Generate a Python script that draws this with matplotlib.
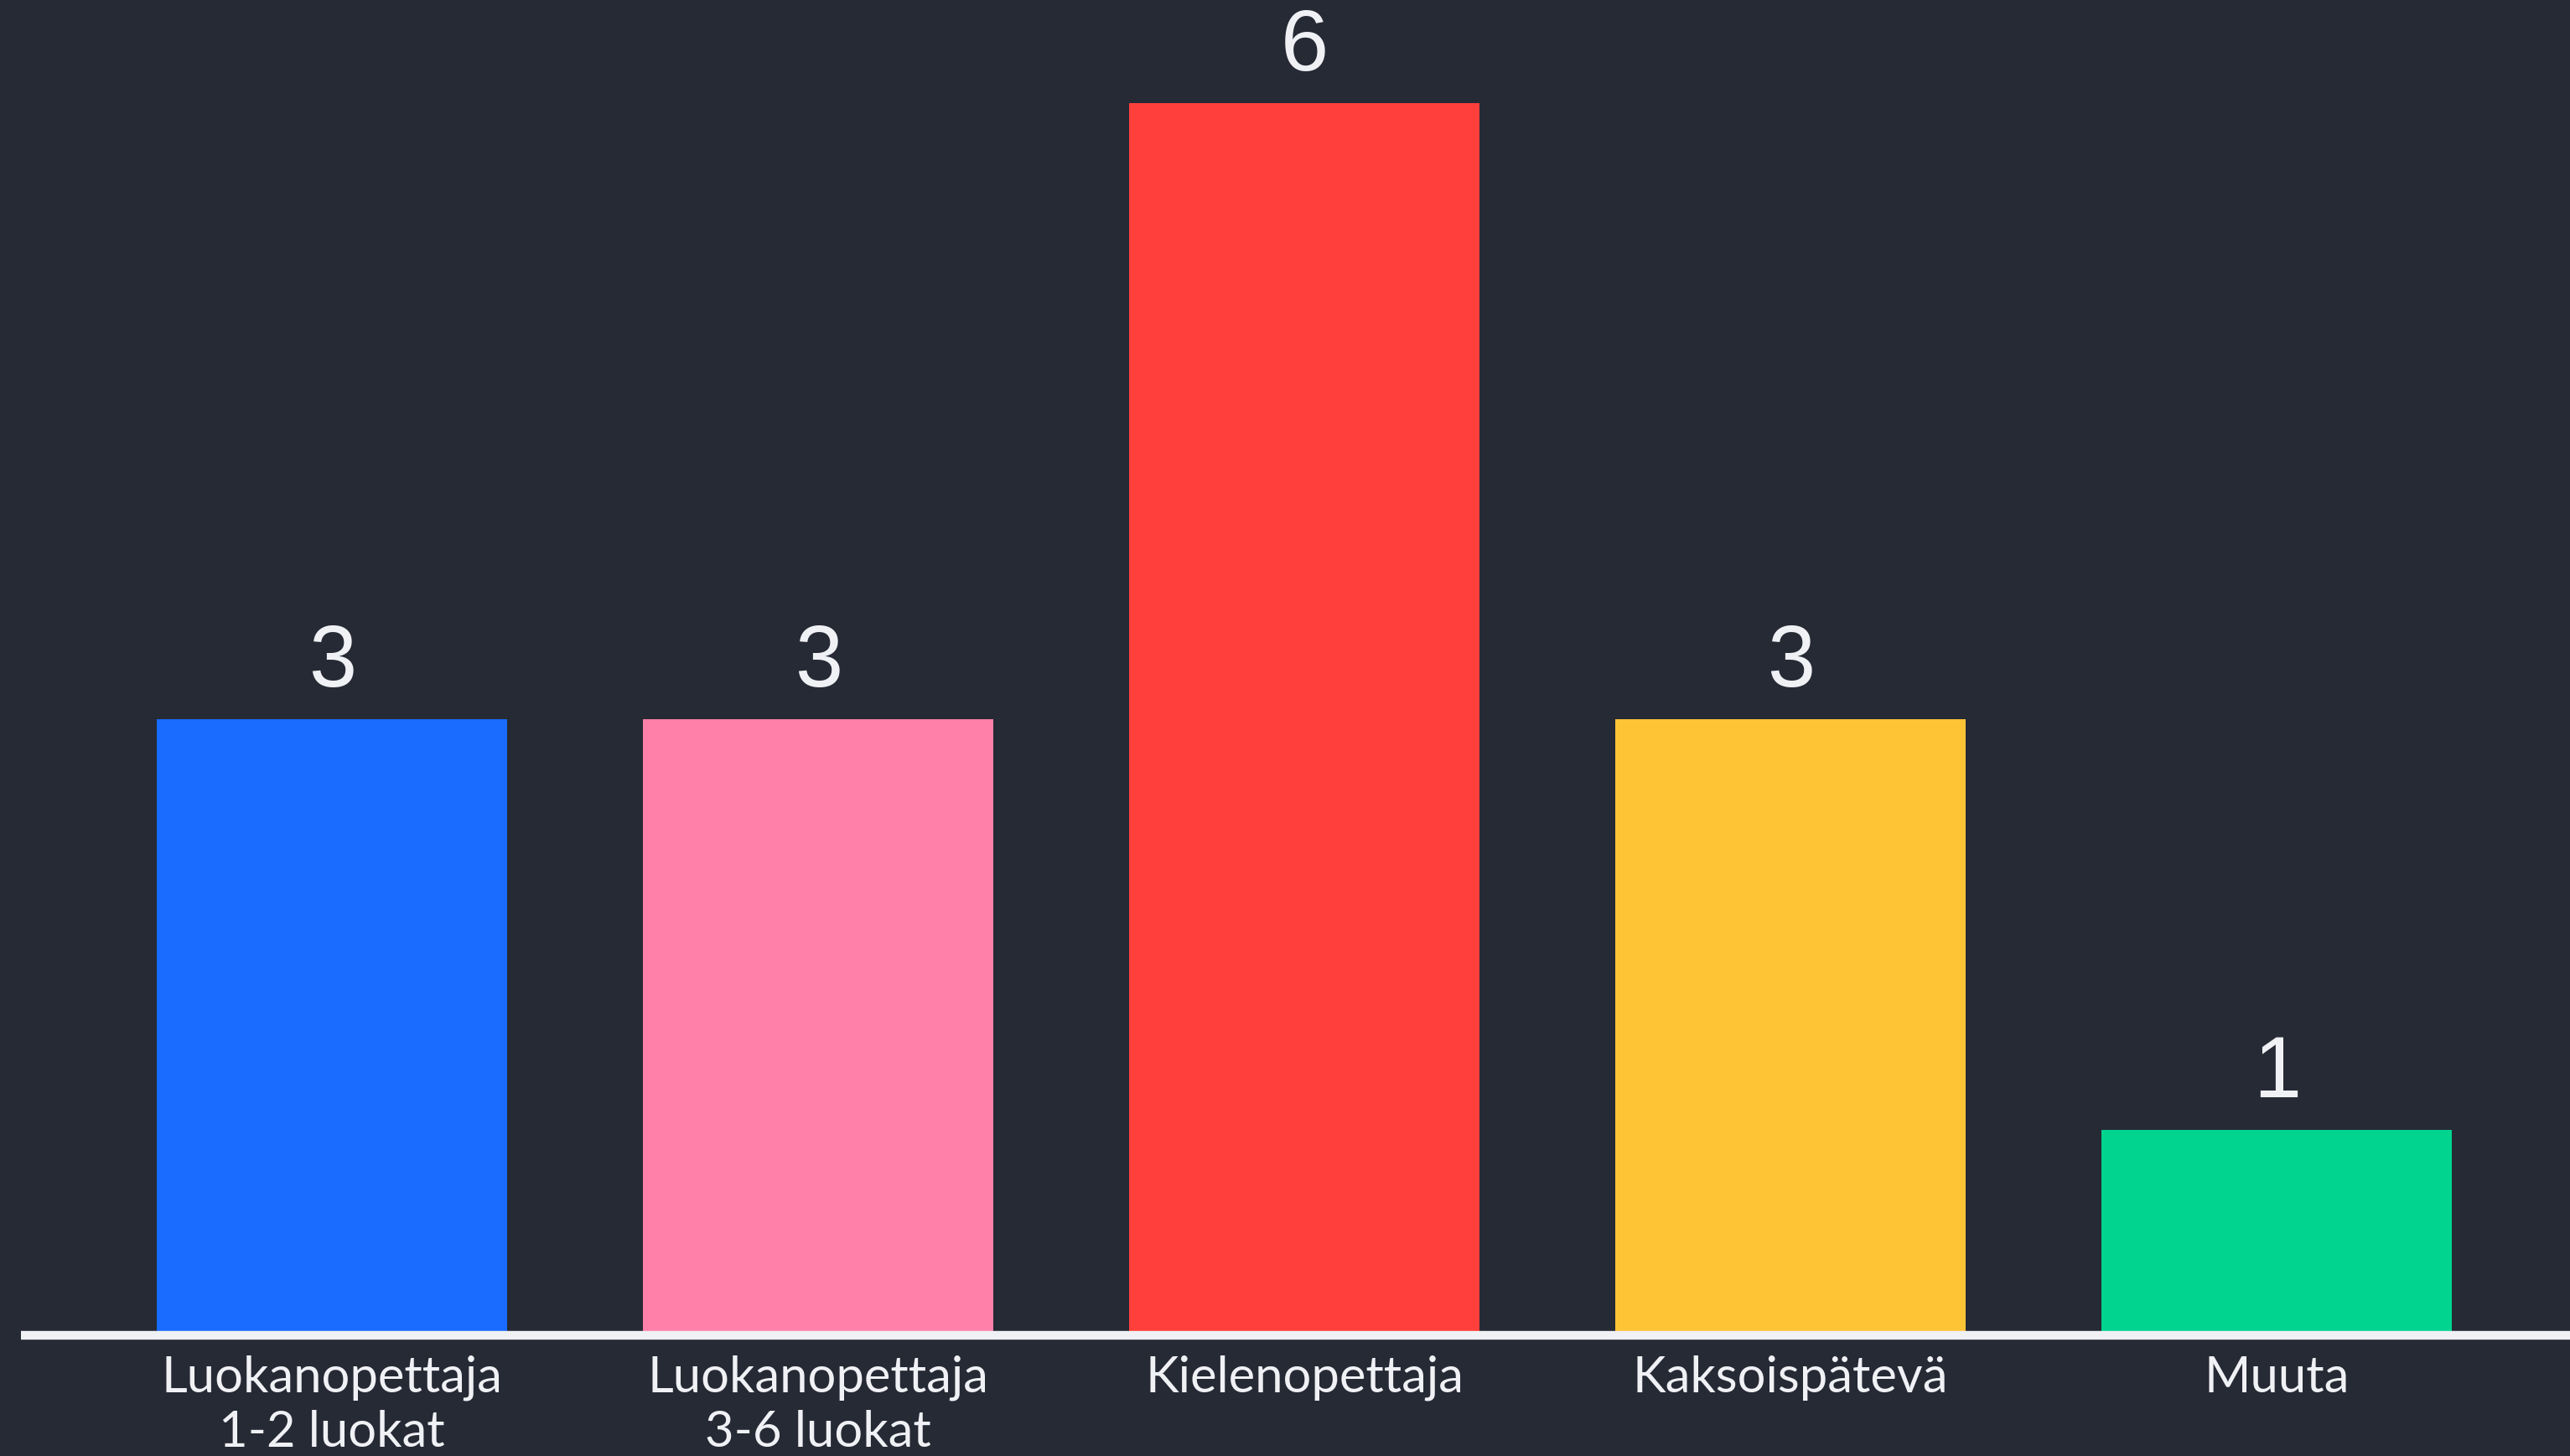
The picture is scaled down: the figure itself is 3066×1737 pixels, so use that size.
import matplotlib.pyplot as plt
import numpy as np

# data
categories = ['Luokanopettaja\n1-2 luokat', 'Luokanopettaja\n3-6 luokat',
              'Kielenopettaja', 'Kaksoispätevä', 'Muuta']
counts = [3, 3, 6, 3, 1]
bar_colors = ['#196CFF', '#FF80A8', '#FF3F3B', '#FFC336', '#00D48F']

bg = '#262A35'
fg = '#F0F1F5'

W, H = 3066, 1737
base_px = 1593  # y of baseline (from top)

fig = plt.figure(figsize=(W / 100, H / 100), dpi=100, facecolor=bg)
ax = fig.add_axes([25 / W, (H - base_px) / H, 1 - 25 / W, base_px / H])
ax.set_facecolor(bg)

x = np.arange(len(categories))
ax.bar(x, counts, width=0.72, color=bar_colors, zorder=1)

# value labels above bars
for xi, v in zip(x, counts):
    ax.annotate(str(v), (xi, v), xytext=(0, 28), textcoords='offset points',
                ha='center', va='baseline', fontsize=74, color=fg,
                family='Liberation Sans')

ax.set_xlim(-0.640, 4.603)
ax.set_ylim(0, 6.50)

for s in ['top', 'left', 'right']:
    ax.spines[s].set_visible(False)
ax.spines['bottom'].set_color(fg)
ax.spines['bottom'].set_linewidth(7.5)
ax.spines['bottom'].set_zorder(3)
ax.spines['bottom'].set_capstyle('butt')

ax.set_yticks([])
ax.set_xticks(x)
ax.set_xticklabels(categories, fontsize=43, color=fg, family='Lato',
                   linespacing=1.25)
ax.tick_params(axis='x', length=0, pad=17)

fig.savefig('out.png', dpi=100, facecolor=bg)
